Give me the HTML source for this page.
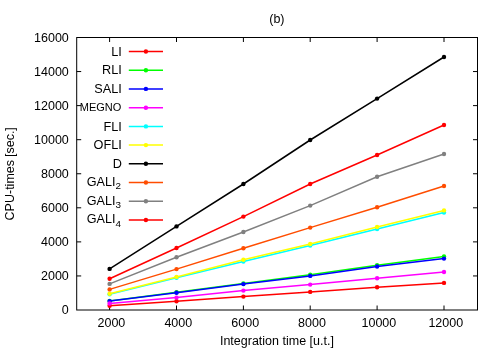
<!DOCTYPE html>
<html><head><meta charset="utf-8"><title>(b)</title>
<style>
html,body{margin:0;padding:0;background:#fff;}
body{width:500px;height:350px;overflow:hidden;}
svg{display:block;will-change:transform;}
text{font-family:"Liberation Sans",sans-serif;font-size:12.5px;fill:#000;}
</style></head><body>
<svg width="500" height="350" viewBox="0 0 500 350">
<rect x="0" y="0" width="500" height="350" fill="#fff"/>
<rect x="76.7" y="37.5" width="400.8" height="272.5" fill="none" stroke="#000" stroke-width="1"/>
<text x="68.8" y="314.3" text-anchor="end">0</text>
<line x1="76.7" y1="275.94" x2="81.2" y2="275.94" stroke="#000" stroke-width="1"/>
<line x1="477.5" y1="275.94" x2="473.0" y2="275.94" stroke="#000" stroke-width="1"/>
<text x="68.8" y="280.2" text-anchor="end">2000</text>
<line x1="76.7" y1="241.88" x2="81.2" y2="241.88" stroke="#000" stroke-width="1"/>
<line x1="477.5" y1="241.88" x2="473.0" y2="241.88" stroke="#000" stroke-width="1"/>
<text x="68.8" y="246.2" text-anchor="end">4000</text>
<line x1="76.7" y1="207.81" x2="81.2" y2="207.81" stroke="#000" stroke-width="1"/>
<line x1="477.5" y1="207.81" x2="473.0" y2="207.81" stroke="#000" stroke-width="1"/>
<text x="68.8" y="212.1" text-anchor="end">6000</text>
<line x1="76.7" y1="173.75" x2="81.2" y2="173.75" stroke="#000" stroke-width="1"/>
<line x1="477.5" y1="173.75" x2="473.0" y2="173.75" stroke="#000" stroke-width="1"/>
<text x="68.8" y="178.1" text-anchor="end">8000</text>
<line x1="76.7" y1="139.69" x2="81.2" y2="139.69" stroke="#000" stroke-width="1"/>
<line x1="477.5" y1="139.69" x2="473.0" y2="139.69" stroke="#000" stroke-width="1"/>
<text x="68.8" y="144.0" text-anchor="end">10000</text>
<line x1="76.7" y1="105.62" x2="81.2" y2="105.62" stroke="#000" stroke-width="1"/>
<line x1="477.5" y1="105.62" x2="473.0" y2="105.62" stroke="#000" stroke-width="1"/>
<text x="68.8" y="109.9" text-anchor="end">12000</text>
<line x1="76.7" y1="71.56" x2="81.2" y2="71.56" stroke="#000" stroke-width="1"/>
<line x1="477.5" y1="71.56" x2="473.0" y2="71.56" stroke="#000" stroke-width="1"/>
<text x="68.8" y="75.9" text-anchor="end">14000</text>
<text x="68.8" y="41.8" text-anchor="end">16000</text>
<line x1="109.6" y1="310.0" x2="109.6" y2="305.5" stroke="#000" stroke-width="1"/>
<line x1="109.6" y1="37.5" x2="109.6" y2="42.0" stroke="#000" stroke-width="1"/>
<text x="111.4" y="326.5" text-anchor="middle">2000</text>
<line x1="176.5" y1="310.0" x2="176.5" y2="305.5" stroke="#000" stroke-width="1"/>
<line x1="176.5" y1="37.5" x2="176.5" y2="42.0" stroke="#000" stroke-width="1"/>
<text x="178.3" y="326.5" text-anchor="middle">4000</text>
<line x1="243.4" y1="310.0" x2="243.4" y2="305.5" stroke="#000" stroke-width="1"/>
<line x1="243.4" y1="37.5" x2="243.4" y2="42.0" stroke="#000" stroke-width="1"/>
<text x="245.2" y="326.5" text-anchor="middle">6000</text>
<line x1="310.2" y1="310.0" x2="310.2" y2="305.5" stroke="#000" stroke-width="1"/>
<line x1="310.2" y1="37.5" x2="310.2" y2="42.0" stroke="#000" stroke-width="1"/>
<text x="312.0" y="326.5" text-anchor="middle">8000</text>
<line x1="377.1" y1="310.0" x2="377.1" y2="305.5" stroke="#000" stroke-width="1"/>
<line x1="377.1" y1="37.5" x2="377.1" y2="42.0" stroke="#000" stroke-width="1"/>
<text x="378.9" y="326.5" text-anchor="middle">10000</text>
<line x1="444.0" y1="310.0" x2="444.0" y2="305.5" stroke="#000" stroke-width="1"/>
<line x1="444.0" y1="37.5" x2="444.0" y2="42.0" stroke="#000" stroke-width="1"/>
<text x="445.8" y="326.5" text-anchor="middle">12000</text>
<polyline points="109.6,305.8 176.5,301.2 243.4,296.6 310.2,291.9 377.1,287.3 444.0,282.9" fill="none" stroke="#ff0000" stroke-width="1.5"/>
<circle cx="109.6" cy="305.8" r="2.2" fill="#ff0000"/>
<circle cx="176.5" cy="301.2" r="2.2" fill="#ff0000"/>
<circle cx="243.4" cy="296.6" r="2.2" fill="#ff0000"/>
<circle cx="310.2" cy="291.9" r="2.2" fill="#ff0000"/>
<circle cx="377.1" cy="287.3" r="2.2" fill="#ff0000"/>
<circle cx="444.0" cy="282.9" r="2.2" fill="#ff0000"/>
<line x1="128.8" y1="51.5" x2="163" y2="51.5" stroke="#ff0000" stroke-width="1.5"/>
<circle cx="145.9" cy="51.5" r="2.2" fill="#ff0000"/>
<text x="121.8" y="55.6" text-anchor="end" style="font-size:12.7px">LI</text>
<polyline points="109.6,300.9 176.5,292.3 243.4,283.5 310.2,274.8 377.1,265.3 444.0,256.4" fill="none" stroke="#00ff00" stroke-width="1.5"/>
<circle cx="109.6" cy="300.9" r="2.2" fill="#00ff00"/>
<circle cx="176.5" cy="292.3" r="2.2" fill="#00ff00"/>
<circle cx="243.4" cy="283.5" r="2.2" fill="#00ff00"/>
<circle cx="310.2" cy="274.8" r="2.2" fill="#00ff00"/>
<circle cx="377.1" cy="265.3" r="2.2" fill="#00ff00"/>
<circle cx="444.0" cy="256.4" r="2.2" fill="#00ff00"/>
<line x1="128.8" y1="70.2" x2="163" y2="70.2" stroke="#00ff00" stroke-width="1.5"/>
<circle cx="145.9" cy="70.2" r="2.2" fill="#00ff00"/>
<text x="121.8" y="74.3" text-anchor="end" style="font-size:12.7px">RLI</text>
<polyline points="109.6,301.1 176.5,292.7 243.4,284.1 310.2,275.9 377.1,266.5 444.0,258.6" fill="none" stroke="#0000ff" stroke-width="1.5"/>
<circle cx="109.6" cy="301.1" r="2.2" fill="#0000ff"/>
<circle cx="176.5" cy="292.7" r="2.2" fill="#0000ff"/>
<circle cx="243.4" cy="284.1" r="2.2" fill="#0000ff"/>
<circle cx="310.2" cy="275.9" r="2.2" fill="#0000ff"/>
<circle cx="377.1" cy="266.5" r="2.2" fill="#0000ff"/>
<circle cx="444.0" cy="258.6" r="2.2" fill="#0000ff"/>
<line x1="128.8" y1="88.9" x2="163" y2="88.9" stroke="#0000ff" stroke-width="1.5"/>
<circle cx="145.9" cy="88.9" r="2.2" fill="#0000ff"/>
<text x="121.8" y="93.0" text-anchor="end" style="font-size:12.7px">SALI</text>
<polyline points="109.6,303.5 176.5,297.6 243.4,290.6 310.2,284.6 377.1,278.2 444.0,272.0" fill="none" stroke="#ff00ff" stroke-width="1.5"/>
<circle cx="109.6" cy="303.5" r="2.2" fill="#ff00ff"/>
<circle cx="176.5" cy="297.6" r="2.2" fill="#ff00ff"/>
<circle cx="243.4" cy="290.6" r="2.2" fill="#ff00ff"/>
<circle cx="310.2" cy="284.6" r="2.2" fill="#ff00ff"/>
<circle cx="377.1" cy="278.2" r="2.2" fill="#ff00ff"/>
<circle cx="444.0" cy="272.0" r="2.2" fill="#ff00ff"/>
<line x1="128.8" y1="107.7" x2="163" y2="107.7" stroke="#ff00ff" stroke-width="1.5"/>
<circle cx="145.9" cy="107.7" r="2.2" fill="#ff00ff"/>
<text x="121.3" y="111.1" text-anchor="end" style="font-size:11px">MEGNO</text>
<polyline points="109.6,294.2 176.5,277.7 243.4,261.5 310.2,245.6 377.1,229.0 444.0,212.6" fill="none" stroke="#00ffff" stroke-width="1.5"/>
<circle cx="109.6" cy="294.2" r="2.2" fill="#00ffff"/>
<circle cx="176.5" cy="277.7" r="2.2" fill="#00ffff"/>
<circle cx="243.4" cy="261.5" r="2.2" fill="#00ffff"/>
<circle cx="310.2" cy="245.6" r="2.2" fill="#00ffff"/>
<circle cx="377.1" cy="229.0" r="2.2" fill="#00ffff"/>
<circle cx="444.0" cy="212.6" r="2.2" fill="#00ffff"/>
<line x1="128.8" y1="126.4" x2="163" y2="126.4" stroke="#00ffff" stroke-width="1.5"/>
<circle cx="145.9" cy="126.4" r="2.2" fill="#00ffff"/>
<text x="121.8" y="130.5" text-anchor="end" style="font-size:12.7px">FLI</text>
<polyline points="109.6,293.7 176.5,276.9 243.4,259.7 310.2,244.0 377.1,227.0 444.0,210.4" fill="none" stroke="#ffff00" stroke-width="1.5"/>
<circle cx="109.6" cy="293.7" r="2.2" fill="#ffff00"/>
<circle cx="176.5" cy="276.9" r="2.2" fill="#ffff00"/>
<circle cx="243.4" cy="259.7" r="2.2" fill="#ffff00"/>
<circle cx="310.2" cy="244.0" r="2.2" fill="#ffff00"/>
<circle cx="377.1" cy="227.0" r="2.2" fill="#ffff00"/>
<circle cx="444.0" cy="210.4" r="2.2" fill="#ffff00"/>
<line x1="128.8" y1="145.1" x2="163" y2="145.1" stroke="#ffff00" stroke-width="1.5"/>
<circle cx="145.9" cy="145.1" r="2.2" fill="#ffff00"/>
<text x="121.8" y="149.2" text-anchor="end" style="font-size:12.7px">OFLI</text>
<polyline points="109.6,268.9 176.5,226.4 243.4,184.0 310.2,140.0 377.1,98.6 444.0,57.0" fill="none" stroke="#000000" stroke-width="1.5"/>
<circle cx="109.6" cy="268.9" r="2.2" fill="#000000"/>
<circle cx="176.5" cy="226.4" r="2.2" fill="#000000"/>
<circle cx="243.4" cy="184.0" r="2.2" fill="#000000"/>
<circle cx="310.2" cy="140.0" r="2.2" fill="#000000"/>
<circle cx="377.1" cy="98.6" r="2.2" fill="#000000"/>
<circle cx="444.0" cy="57.0" r="2.2" fill="#000000"/>
<line x1="128.8" y1="163.8" x2="163" y2="163.8" stroke="#000000" stroke-width="1.5"/>
<circle cx="145.9" cy="163.8" r="2.2" fill="#000000"/>
<text x="121.8" y="167.9" text-anchor="end" style="font-size:12.7px">D</text>
<polyline points="109.6,289.4 176.5,269.1 243.4,248.3 310.2,227.6 377.1,207.2 444.0,186.0" fill="none" stroke="#ff4d00" stroke-width="1.5"/>
<circle cx="109.6" cy="289.4" r="2.2" fill="#ff4d00"/>
<circle cx="176.5" cy="269.1" r="2.2" fill="#ff4d00"/>
<circle cx="243.4" cy="248.3" r="2.2" fill="#ff4d00"/>
<circle cx="310.2" cy="227.6" r="2.2" fill="#ff4d00"/>
<circle cx="377.1" cy="207.2" r="2.2" fill="#ff4d00"/>
<circle cx="444.0" cy="186.0" r="2.2" fill="#ff4d00"/>
<line x1="128.8" y1="182.5" x2="163" y2="182.5" stroke="#ff4d00" stroke-width="1.5"/>
<circle cx="145.9" cy="182.5" r="2.2" fill="#ff4d00"/>
<text x="121.0" y="185.8" text-anchor="end" style="font-size:12.6px">GALI<tspan dy="3.5" style="font-size:9.9px">2</tspan></text>
<polyline points="109.6,283.9 176.5,257.2 243.4,232.0 310.2,205.6 377.1,176.8 444.0,154.0" fill="none" stroke="#808080" stroke-width="1.5"/>
<circle cx="109.6" cy="283.9" r="2.2" fill="#808080"/>
<circle cx="176.5" cy="257.2" r="2.2" fill="#808080"/>
<circle cx="243.4" cy="232.0" r="2.2" fill="#808080"/>
<circle cx="310.2" cy="205.6" r="2.2" fill="#808080"/>
<circle cx="377.1" cy="176.8" r="2.2" fill="#808080"/>
<circle cx="444.0" cy="154.0" r="2.2" fill="#808080"/>
<line x1="128.8" y1="201.3" x2="163" y2="201.3" stroke="#808080" stroke-width="1.5"/>
<circle cx="145.9" cy="201.3" r="2.2" fill="#808080"/>
<text x="121.0" y="204.6" text-anchor="end" style="font-size:12.6px">GALI<tspan dy="3.5" style="font-size:9.9px">3</tspan></text>
<polyline points="109.6,278.8 176.5,248.0 243.4,216.6 310.2,184.0 377.1,155.0 444.0,125.0" fill="none" stroke="#ff0000" stroke-width="1.5"/>
<circle cx="109.6" cy="278.8" r="2.2" fill="#ff0000"/>
<circle cx="176.5" cy="248.0" r="2.2" fill="#ff0000"/>
<circle cx="243.4" cy="216.6" r="2.2" fill="#ff0000"/>
<circle cx="310.2" cy="184.0" r="2.2" fill="#ff0000"/>
<circle cx="377.1" cy="155.0" r="2.2" fill="#ff0000"/>
<circle cx="444.0" cy="125.0" r="2.2" fill="#ff0000"/>
<line x1="128.8" y1="220.0" x2="163" y2="220.0" stroke="#ff0000" stroke-width="1.5"/>
<circle cx="145.9" cy="220.0" r="2.2" fill="#ff0000"/>
<text x="121.0" y="223.3" text-anchor="end" style="font-size:12.6px">GALI<tspan dy="3.5" style="font-size:9.9px">4</tspan></text>
<text x="276.9" y="23.1" text-anchor="middle">(b)</text>
<text x="276.9" y="345.1" text-anchor="middle">Integration time [u.t.]</text>
<text transform="translate(13.5,173.8) rotate(-90)" text-anchor="middle">CPU-times<tspan dx="-0.5"> [sec.]</tspan></text>
</svg>
</body></html>
